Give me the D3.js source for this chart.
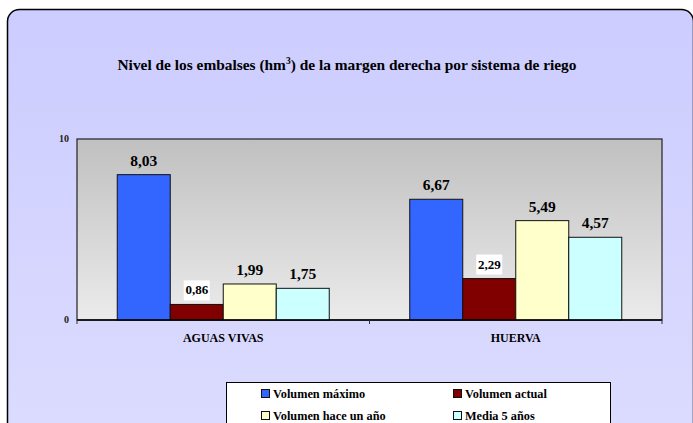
<!DOCTYPE html>
<html>
<head>
<meta charset="utf-8">
<script src="https://cdn.jsdelivr.net/npm/d3@7"></script>
<style>
  body { margin: 0; background: #ffffff; overflow: hidden; }
  svg { display: block; }
  svg text { font-family: "Liberation Serif", "Times New Roman", serif; }
</style>
</head>
<body>
<div id="chart"></div>
<script>
// Data
var categories = ['AGUAS VIVAS', 'HUERVA'];
var seriesNames = ['Volumen máximo', 'Volumen actual', 'Volumen hace un año', 'Media 5 años'];
var seriesColors = ['#3366ff', '#800000', '#ffffcc', '#ccffff'];
var volumenMaximo = [8.03, 6.67];
var volumenActual = [0.86, 2.29];
var volumenHaceUnAno = [1.99, 5.49];
var media5Anos = [1.75, 4.57];
var yTicks = [0, 10];

var seriesValues = [volumenMaximo, volumenActual, volumenHaceUnAno, media5Anos];

var attrs = {
  svgWidth: 693,
  svgHeight: 423,
  plotLeft: 77,
  plotTop: 139,
  plotRight: 662,
  plotBottom: 320
};

var fmt = function(v) { return d3.format('.2f')(v).replace('.', ','); };

var svg = d3.select('#chart').append('svg')
  .attr('width', attrs.svgWidth)
  .attr('height', attrs.svgHeight);

var defs = svg.append('defs');
var bgGrad = defs.append('linearGradient').attr('id', 'bgGrad')
  .attr('x1', 0).attr('y1', 0).attr('x2', 0).attr('y2', 1);
bgGrad.append('stop').attr('offset', '0%').attr('stop-color', '#ccccff');
bgGrad.append('stop').attr('offset', '100%').attr('stop-color', '#dcdcff');

var plotGrad = defs.append('linearGradient').attr('id', 'plotGrad')
  .attr('x1', 0).attr('y1', 0).attr('x2', 0).attr('y2', 1);
plotGrad.append('stop').attr('offset', '0%').attr('stop-color', '#c0c0c0');
plotGrad.append('stop').attr('offset', '100%').attr('stop-color', '#ebebeb');

// outer frame
svg.append('rect')
  .attr('x', 7.5).attr('y', 9.5)
  .attr('width', 686).attr('height', 430)
  .attr('rx', 12).attr('ry', 12)
  .attr('fill', 'url(#bgGrad)')
  .attr('stroke', '#000').attr('stroke-width', 1.5);

// title
var title = svg.append('text')
  .attr('x', 347).attr('y', 70)
  .attr('text-anchor', 'middle')
  .attr('font-size', 15.4)
  .attr('font-weight', 'bold')
  .attr('fill', '#000');
title.append('tspan').text('Nivel de los embalses (hm');
title.append('tspan').attr('font-size', 9.5).attr('dy', -6).text('3');
title.append('tspan').attr('dy', 6).text(') de la margen derecha por sistema de riego');

// scales
var x0 = d3.scaleBand()
  .domain(categories)
  .range([attrs.plotLeft, attrs.plotRight])
  .paddingInner(0).paddingOuter(0);

var groupWidth = 212;
var x1 = d3.scaleBand()
  .domain(d3.range(seriesNames.length))
  .range([0, groupWidth]);

var y = d3.scaleLinear()
  .domain([0, 10])
  .range([attrs.plotBottom, attrs.plotTop]);

// plot area
svg.append('rect')
  .attr('x', attrs.plotLeft).attr('y', attrs.plotTop)
  .attr('width', attrs.plotRight - attrs.plotLeft)
  .attr('height', attrs.plotBottom - attrs.plotTop)
  .attr('fill', 'url(#plotGrad)')
  .attr('stroke', '#222').attr('stroke-width', 1.2);

// bars
var groups = svg.selectAll('.group')
  .data(categories)
  .enter().append('g')
  .attr('class', 'group')
  .attr('transform', function(d) {
    return 'translate(' + (x0(d) + (x0.bandwidth() - groupWidth) / 2) + ',0)';
  });

groups.selectAll('rect')
  .data(function(d, ci) {
    return seriesValues.map(function(vals, si) { return { s: si, v: vals[ci] }; });
  })
  .enter().append('rect')
  .attr('x', function(d) { return x1(d.s); })
  .attr('y', function(d) { return y(d.v); })
  .attr('width', x1.bandwidth())
  .attr('height', function(d) { return y(0) - y(d.v); })
  .attr('fill', function(d) { return seriesColors[d.s]; })
  .attr('stroke', '#111').attr('stroke-width', 1);

// value labels
groups.each(function(c, ci) {
  var g = d3.select(this);
  seriesValues.forEach(function(vals, si) {
    var v = vals[ci];
    var cx = x1(si) + x1.bandwidth() / 2;
    var small = si === 1;
    if (small) {
      g.append('rect')
        .attr('x', cx - 13).attr('y', y(v) - 24)
        .attr('width', 26).attr('height', 20)
        .attr('fill', '#ffffff');
    }
    g.append('text')
      .attr('x', cx)
      .attr('y', y(v) - (small ? 10 : 9))
      .attr('text-anchor', 'middle')
      .attr('font-size', small ? 13 : 15.5)
      .attr('font-weight', 'bold')
      .attr('fill', '#000')
      .text(fmt(v));
  });
});

// x axis
var xAxis = svg.append('g');
xAxis.append('line')
  .attr('x1', attrs.plotLeft).attr('x2', attrs.plotRight)
  .attr('y1', attrs.plotBottom).attr('y2', attrs.plotBottom)
  .attr('stroke', '#000').attr('stroke-width', 1.5);
var boundaries = categories.map(function(d) { return x0(d); }).concat([attrs.plotRight]);
xAxis.selectAll('.xtick')
  .data(boundaries)
  .enter().append('line')
  .attr('class', 'xtick')
  .attr('x1', function(d) { return d; }).attr('x2', function(d) { return d; })
  .attr('y1', attrs.plotBottom).attr('y2', attrs.plotBottom + 4)
  .attr('stroke', '#333').attr('stroke-width', 1);
xAxis.selectAll('.xlabel')
  .data(categories)
  .enter().append('text')
  .attr('class', 'xlabel')
  .attr('x', function(d) { return x0(d) + x0.bandwidth() / 2; })
  .attr('y', 342)
  .attr('text-anchor', 'middle')
  .attr('font-size', 12)
  .attr('font-weight', 'bold')
  .text(function(d) { return d; });

// y axis labels
svg.selectAll('.ylabel')
  .data(yTicks)
  .enter().append('text')
  .attr('class', 'ylabel')
  .attr('x', 69)
  .attr('y', function(d) { return y(d) + 3; })
  .attr('text-anchor', 'end')
  .attr('font-size', 10)
  .attr('font-weight', 'bold')
  .attr('fill', '#222')
  .text(function(d) { return d; });

// legend
var legend = svg.append('g');
legend.append('rect')
  .attr('x', 226.5).attr('y', 382.5)
  .attr('width', 384).attr('height', 60)
  .attr('fill', '#ffffff')
  .attr('stroke', '#000').attr('stroke-width', 1);

var legendPos = [[261, 394], [453, 394], [261, 416], [453, 416]];
var items = legend.selectAll('.item')
  .data(seriesNames)
  .enter().append('g')
  .attr('class', 'item')
  .attr('transform', function(d, i) {
    return 'translate(' + legendPos[i][0] + ',' + legendPos[i][1] + ')';
  });
items.append('rect')
  .attr('x', 0.5).attr('y', -4.5)
  .attr('width', 8).attr('height', 8)
  .attr('fill', function(d, i) { return seriesColors[i]; })
  .attr('stroke', '#111').attr('stroke-width', 1);
items.append('text')
  .attr('x', 12).attr('y', 4)
  .attr('font-size', 12.3)
  .attr('font-weight', 'bold')
  .text(function(d) { return d; });
</script>
</body>
</html>
